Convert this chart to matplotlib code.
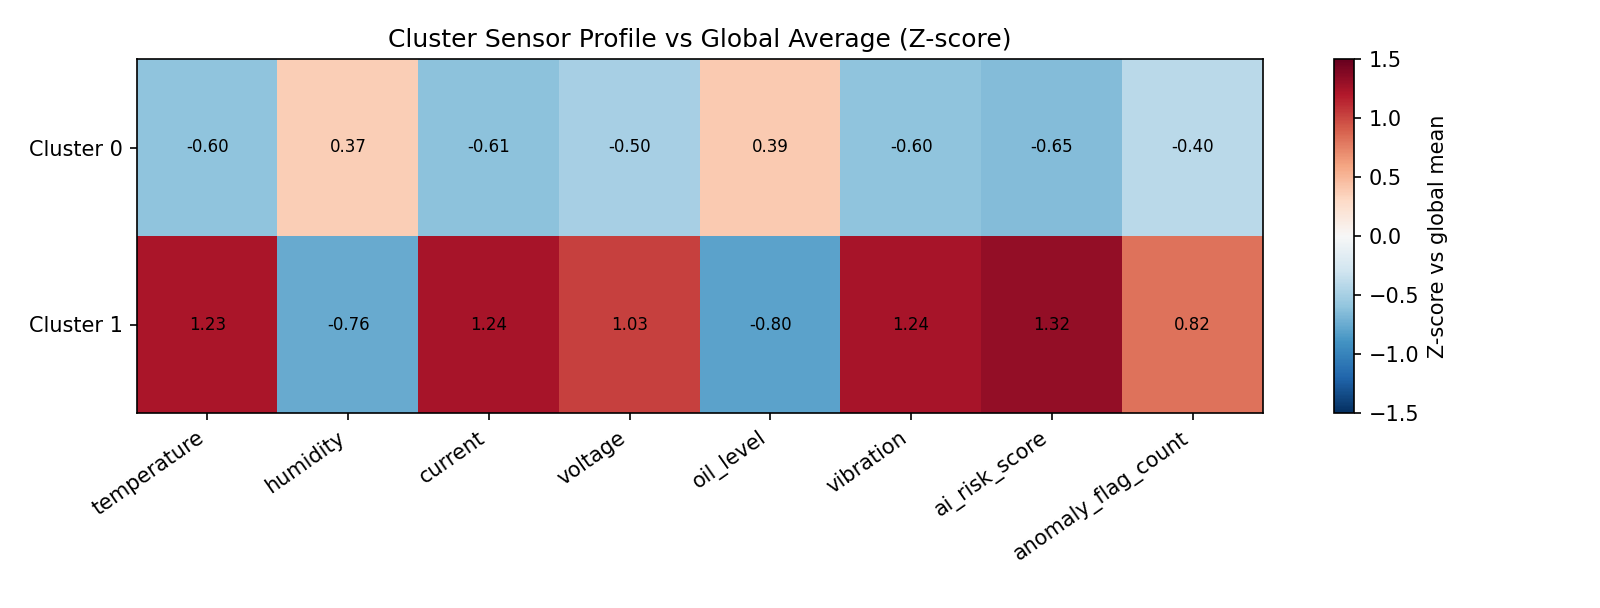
import matplotlib
matplotlib.use("Agg")
import matplotlib.pyplot as plt
import numpy as np

features = ["temperature", "humidity", "current", "voltage", "oil_level",
            "vibration", "ai_risk_score", "anomaly_flag_count"]
clusters = ["Cluster 0", "Cluster 1"]
cluster0 = [-0.60, 0.37, -0.61, -0.50, 0.39, -0.60, -0.65, -0.40]
cluster1 = [1.23, -0.76, 1.24, 1.03, -0.80, 1.24, 1.32, 0.82]

z = np.array([cluster0, cluster1])

fig = plt.figure(figsize=(1600 / 150, 608 / 150), dpi=150)
ax = fig.add_axes([137 / 1600, 195 / 608, 1126 / 1600, 354 / 608])
cax = fig.add_axes([1334 / 1600, 195 / 608, 20 / 1600, 354 / 608])

im = ax.imshow(z, cmap="RdBu_r", vmin=-1.5, vmax=1.5, aspect="auto")
for i in range(z.shape[0]):
    for j in range(z.shape[1]):
        ax.text(j, i, f"{z[i, j]:.2f}", ha="center", va="center", fontsize=8)

ax.set_xticks(range(len(features)))
ax.set_xticklabels(features, rotation=35, ha="right")
ax.set_yticks(range(len(clusters)))
ax.set_yticklabels(clusters)
ax.set_title("Cluster Sensor Profile vs Global Average (Z-score)", fontsize=12)

cb = fig.colorbar(im, cax=cax)
cb.set_label("Z-score vs global mean")

fig.savefig("out.png", dpi=150)
